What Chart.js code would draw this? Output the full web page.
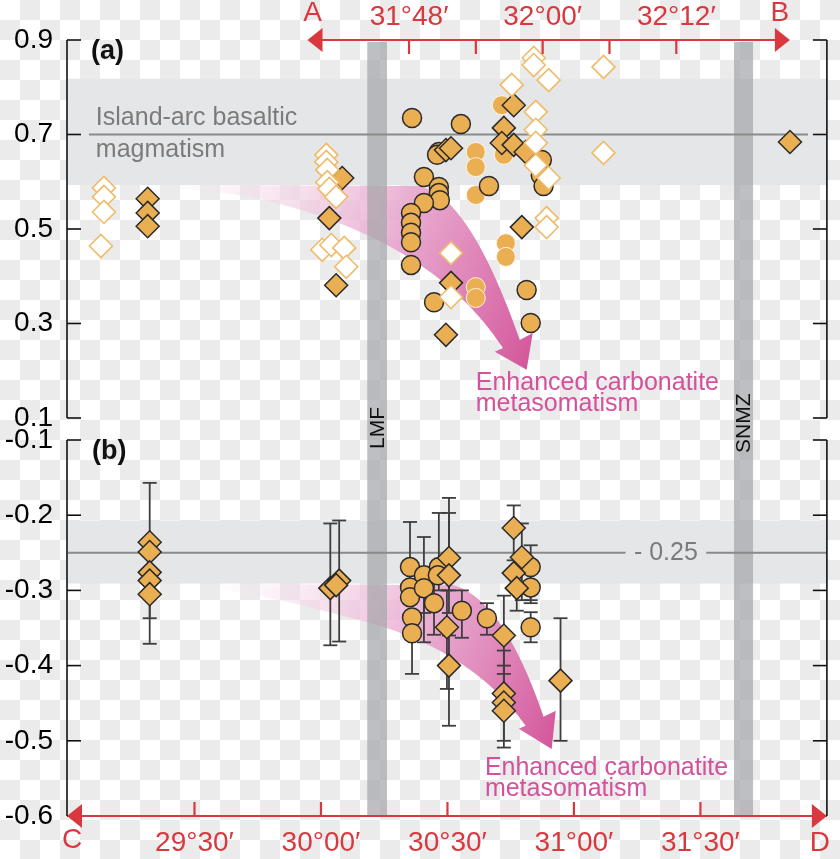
<!DOCTYPE html>
<html>
<head>
<meta charset="utf-8">
<title>Section A-B / C-D</title>
<script src="https://cdn.jsdelivr.net/npm/chart.js@4.4.1/dist/chart.umd.min.js"></script>
<style>
  html, body { margin: 0; padding: 0; }
  body {
    width: 840px; height: 859px;
    background-color: #fff;
    background-image: conic-gradient(#ebebeb 25%, #fff 0 50%, #ebebeb 0 75%, #fff 0);
    background-size: 40px 40px;
  }
  canvas { display: block; }
</style>
</head>
<body>
<canvas id="chart" width="840" height="859"></canvas>
<script>
// ---- panel (a) ----
var aCircleLon = [30.360, 30.553, 30.466, 30.459, 30.407, 30.466, 30.466, 30.470, 30.407, 30.356, 30.356,
                  30.356, 30.356, 30.356, 30.664, 30.873, 30.869, 30.880, 30.447, 30.813, 30.829];
var aCircleVal = [0.735, 0.722, 0.663, 0.657, 0.610, 0.589, 0.576, 0.561, 0.555, 0.534, 0.513,
                  0.492, 0.472, 0.424, 0.591, 0.646, 0.614, 0.591, 0.345, 0.371, 0.301];

var aDiamondLon = [30.762, 30.723, 30.715, 30.762, 30.809, 30.494, 30.514, 30.794, 30.514, 30.494,
                   30.084, 30.033, 30.060, 29.315, 29.315, 29.315, 31.854];
var aDiamondVal = [0.762, 0.714, 0.682, 0.678, 0.663, 0.667, 0.671, 0.504, 0.386, 0.276,
                   0.608, 0.523, 0.381, 0.564, 0.534, 0.506, 0.684];

var aOpenLon = [29.142, 29.142, 29.142, 29.130, 30.021, 30.021, 30.025, 30.025, 30.033, 30.060,
                30.005, 30.041, 30.092, 30.100, 30.841, 30.841, 30.900, 30.754, 30.849, 30.849,
                30.849, 30.849, 30.900, 30.892, 30.892, 31.117, 31.117, 30.514, 30.514];
var aOpenVal = [0.587, 0.568, 0.536, 0.464, 0.657, 0.642, 0.625, 0.599, 0.585, 0.568,
                0.456, 0.466, 0.460, 0.420, 0.862, 0.847, 0.815, 0.805, 0.748, 0.710,
                0.682, 0.635, 0.608, 0.523, 0.504, 0.843, 0.661, 0.449, 0.356];

var aDotLon = [30.612, 30.612, 30.612, 30.715, 30.723, 30.731, 30.731, 30.612, 30.612];
var aDotVal = [0.663, 0.631, 0.572, 0.762, 0.657, 0.470, 0.441, 0.377, 0.354];

// ---- panel (b) ----
var bCircleLon  = [30.352, 30.352, 30.352, 30.360, 30.360, 30.407, 30.407, 30.447, 30.466, 30.462, 30.557, 30.656, 30.829, 30.829, 30.829];
var bCircleVal  = [-0.269, -0.296, -0.309, -0.336, -0.357, -0.280, -0.297, -0.317, -0.269, -0.280, -0.327, -0.337, -0.269, -0.296, -0.349];
var bCircleLow  = [-0.300, null, null, null, -0.411, -0.330, -0.369, -0.359, -0.300, null, -0.363, -0.359, -0.317, -0.313, -0.369];
var bCircleHigh = [-0.209, null, null, null, -0.330, -0.229, -0.270, -0.290, -0.197, null, -0.300, -0.317, -0.240, -0.270, -0.329];

var bDiamondLon  = [29.323, 29.323, 29.323, 29.323, 29.323, 30.037, 30.072, 30.060, 30.506, 30.506, 30.498,
                    30.506, 30.723, 30.723, 30.723, 30.723, 30.947, 30.762, 30.794, 30.762, 30.774];
var bDiamondVal  = [-0.236, -0.249, -0.276, -0.287, -0.305, -0.297, -0.287, -0.293, -0.257, -0.280, -0.349,
                    -0.400, -0.360, -0.437, -0.449, -0.460, -0.420, -0.217, -0.256, -0.277, -0.297];
var bDiamondLow  = [-0.337, null, null, null, -0.371, -0.373, -0.368, null, -0.300, -0.330, -0.431,
                    -0.480, -0.411, -0.500, -0.509, null, -0.500, -0.260, -0.313, null, -0.327];
var bDiamondHigh = [-0.157, null, null, null, -0.280, -0.211, -0.207, null, -0.177, -0.197, -0.300,
                    -0.360, -0.307, -0.380, -0.400, null, -0.337, -0.187, -0.211, null, -0.270];

// ---- axes ----
var bottomTicks = [29.5, 30.0, 30.5, 31.0, 31.5];
var topTicks = [31.8, 31.9, 32.0, 32.1, 32.2];
var topLabelled = [31.8, 32.0, 32.2];
var topRange = [31.2896, 32.4254];
var topArrow = [31.648, 32.370];
var aTicks = [0.1, 0.3, 0.5, 0.7, 0.9];
var bTicks = [-0.6, -0.5, -0.4, -0.3, -0.2, -0.1];

// ---- reference ranges and annotations ----
var arcBand = [0.593, 0.818], arcMean = 0.7, arcLineSpan = [29.083, 31.925];
var arcTextLon = 29.110, arcTextVals = [0.735, 0.667];
var mantleBand = [-0.291, -0.207], mantleMean = -0.25, mantleGap = [31.204, 31.523];
var lmfZone = [30.183, 30.261], snmzZone = [31.633, 31.708];
var lmfLabelVal = 0.079, snmzLabelVal = 0.089;
var carbTextA = [30.612, 0.174, 0.130], carbTextB = [30.648, -0.536, -0.564];

var arrowAPath = [
  ['M', 29.323, 0.593], ['L', 30.388, 0.591], ['Q', 30.585, 0.572, 30.786, 0.265],
  ['L', 30.837, 0.280], ['L', 30.813, 0.202], ['L', 30.687, 0.240], ['L', 30.719, 0.248],
  ['Q', 30.427, 0.487, 29.717, 0.568], ['Q', 29.520, 0.585, 29.323, 0.591]
];
var arrowBPath = [
  ['M', 29.520, -0.291], ['L', 30.526, -0.293], ['Q', 30.723, -0.313, 30.880, -0.468],
  ['L', 30.928, -0.460], ['L', 30.912, -0.511], ['L', 30.782, -0.484], ['L', 30.809, -0.480],
  ['Q', 30.585, -0.373, 30.112, -0.336], ['Q', 29.796, -0.307, 29.520, -0.293]
];

var RED = '#d8383e';
var ORANGE = '#eaae53';
var PINK = '#d4519b';
var FONT = "'Liberation Sans', Arial, Helvetica, sans-serif";

function fmtDeg(v) {
  var d = Math.floor(v + 1e-9);
  var m = Math.round((v - d) * 60);
  if (m === 60) { d += 1; m = 0; }
  return d + '°' + String(m).padStart(2, '0') + '′';
}

function pts(xs, ys) {
  return xs.map(function (x, i) { return {x: x, y: ys[i]}; });
}

function seg(ctx, x1, y1, x2, y2) {
  ctx.beginPath();
  ctx.moveTo(x1, y1);
  ctx.lineTo(x2, y2);
  ctx.stroke();
}

function drawTrendArrow(ctx, xs, ys, path) {
  var P = function (lon, v) { return [xs.getPixelForValue(lon), ys.getPixelForValue(v)]; };
  ctx.beginPath();
  path.forEach(function (c) {
    var p = P(c[1], c[2]);
    if (c[0] === 'M') ctx.moveTo(p[0], p[1]);
    else if (c[0] === 'L') ctx.lineTo(p[0], p[1]);
    else { var q = P(c[3], c[4]); ctx.quadraticCurveTo(p[0], p[1], q[0], q[1]); }
  });
  ctx.closePath();
  var s = P(path[0][1], path[0][2]), tip = P(path[4][1], path[4][2]);
  var g = ctx.createLinearGradient(s[0], s[1], tip[0], tip[1]);
  g.addColorStop(0, 'rgba(250,235,244,0)');
  g.addColorStop(0.3, 'rgba(244,212,231,0.65)');
  g.addColorStop(0.65, 'rgba(228,150,196,0.92)');
  g.addColorStop(1, '#d3579b');
  ctx.fillStyle = g;
  ctx.fill();
}

function arrowHead(ctx, tipX, y, dir) {
  ctx.beginPath();
  ctx.moveTo(tipX, y);
  ctx.lineTo(tipX - dir * 15, y - 12);
  ctx.lineTo(tipX - dir * 15, y + 12);
  ctx.closePath();
  ctx.fill();
}

var decor = {
  id: 'decor',
  beforeDatasetsDraw: function (chart) {
    var ctx = chart.ctx, ca = chart.chartArea;
    var x = chart.scales.x, ya = chart.scales.ya, yb = chart.scales.yb;
    ctx.save();

    // reference ranges
    ctx.fillStyle = '#e5e6e8';
    [[ya, arcBand], [yb, mantleBand]].forEach(function (r) {
      var top = r[0].getPixelForValue(r[1][1]);
      ctx.fillRect(ca.left, top, ca.right - ca.left, r[0].getPixelForValue(r[1][0]) - top);
    });

    // carbonatite trend arrows
    drawTrendArrow(ctx, x, ya, arrowAPath);
    drawTrendArrow(ctx, x, yb, arrowBPath);

    // fault zones
    ctx.fillStyle = 'rgba(165,166,170,0.72)';
    [lmfZone, snmzZone].forEach(function (z) {
      var l = x.getPixelForValue(z[0]);
      ctx.fillRect(l, ca.top + 2, x.getPixelForValue(z[1]) - l, ca.bottom - ca.top - 2);
    });

    // mean lines
    ctx.strokeStyle = '#8a8a8a';
    ctx.lineWidth = 2;
    var ay = ya.getPixelForValue(arcMean);
    seg(ctx, x.getPixelForValue(arcLineSpan[0]), ay, x.getPixelForValue(arcLineSpan[1]), ay);
    var by = yb.getPixelForValue(mantleMean);
    seg(ctx, ca.left, by, x.getPixelForValue(mantleGap[0]), by);
    seg(ctx, x.getPixelForValue(mantleGap[1]), by, ca.right, by);

    // labels
    ctx.textBaseline = 'middle';
    ctx.font = '25px ' + FONT;
    ctx.fillStyle = '#7b7b7b';
    ctx.textAlign = 'left';
    var tx = x.getPixelForValue(arcTextLon);
    ctx.fillText('Island-arc basaltic', tx, ya.getPixelForValue(arcTextVals[0]));
    ctx.fillText('magmatism', tx, ya.getPixelForValue(arcTextVals[1]));
    ctx.textAlign = 'center';
    ctx.fillText('- ' + (-mantleMean).toFixed(2), x.getPixelForValue((mantleGap[0] + mantleGap[1]) / 2), by);

    ctx.fillStyle = PINK;
    ctx.textAlign = 'left';
    [[ya, carbTextA], [yb, carbTextB]].forEach(function (r) {
      var px = x.getPixelForValue(r[1][0]);
      ctx.fillText('Enhanced carbonatite', px, r[0].getPixelForValue(r[1][1]));
      ctx.fillText('metasomatism', px, r[0].getPixelForValue(r[1][2]));
    });

    ctx.fillStyle = '#111';
    ctx.font = '21px ' + FONT;
    ctx.textAlign = 'center';
    [[lmfZone, 'LMF', lmfLabelVal], [snmzZone, 'SNMZ', snmzLabelVal]].forEach(function (r) {
      ctx.save();
      ctx.translate(x.getPixelForValue((r[0][0] + r[0][1]) / 2), ya.getPixelForValue(r[2]));
      ctx.rotate(-Math.PI / 2);
      ctx.fillText(r[1], 0, 1);
      ctx.restore();
    });

    // error bars
    ctx.strokeStyle = '#3e3e3e';
    ctx.lineWidth = 1.8;
    chart.data.datasets.forEach(function (ds) {
      if (!ds.errLow) return;
      var s = chart.scales[ds.yAxisID];
      ds.data.forEach(function (p, j) {
        if (ds.errLow[j] == null) return;
        var px = x.getPixelForValue(p.x);
        var y1 = s.getPixelForValue(ds.errHigh[j]), y2 = s.getPixelForValue(ds.errLow[j]);
        seg(ctx, px, y1, px, y2);
        seg(ctx, px - 7, y1, px + 7, y1);
        seg(ctx, px - 7, y2, px + 7, y2);
      });
    });
    ctx.restore();
  },
  afterDraw: function (chart) {
    var ctx = chart.ctx, ca = chart.chartArea;
    var x = chart.scales.x, xt = chart.scales.xt, ya = chart.scales.ya, yb = chart.scales.yb;
    ctx.save();

    // black frames with inward ticks
    ctx.strokeStyle = '#111';
    ctx.lineWidth = 1.6;
    [[ya, aTicks], [yb, bTicks]].forEach(function (r) {
      var s = r[0], ticks = r[1];
      var t = s.getPixelForValue(Math.max.apply(null, ticks));
      var b = s.getPixelForValue(Math.min.apply(null, ticks));
      [ca.left - 1, ca.right].forEach(function (xx, k) {
        seg(ctx, xx, t, xx, b);
        ticks.forEach(function (v) {
          var py = s.getPixelForValue(v);
          seg(ctx, xx, py, xx + (k ? -14 : 14), py);
        });
      });
    });

    // red section lines
    ctx.strokeStyle = RED;
    ctx.fillStyle = RED;
    ctx.lineWidth = 2.2;
    var yB = ca.bottom;
    seg(ctx, ca.left + 6, yB, ca.right - 6, yB);
    arrowHead(ctx, ca.left - 1, yB, -1);
    arrowHead(ctx, ca.right, yB, 1);
    bottomTicks.forEach(function (v) {
      var px = x.getPixelForValue(v);
      seg(ctx, px, yB, px, yB - 14);
    });

    var yT = ca.top, l = xt.getPixelForValue(topArrow[0]), r = xt.getPixelForValue(topArrow[1]);
    seg(ctx, l + 6, yT, r - 6, yT);
    arrowHead(ctx, l, yT, -1);
    arrowHead(ctx, r, yT, 1);
    topTicks.forEach(function (v) {
      var px = xt.getPixelForValue(v);
      seg(ctx, px, yT, px, yT + 14);
    });

    ctx.font = '28px ' + FONT;
    ctx.textAlign = 'center';
    ctx.textBaseline = 'middle';
    ctx.fillText('A', l + 5, yT - 27);
    ctx.fillText('B', r - 10, yT - 27);
    ctx.fillText('C', ca.left + 4, yB + 24);
    ctx.fillText('D', ca.right - 7, yB + 27);

    // panel letters
    ctx.fillStyle = '#111';
    ctx.font = 'bold 27px ' + FONT;
    ctx.textAlign = 'left';
    ctx.fillText('(a)', ca.left + 23, ya.getPixelForValue(0.9) + 12);
    ctx.fillText('(b)', ca.left + 24, yb.getPixelForValue(-0.1) + 12);
    ctx.restore();
  }
};

var markerA = {pointBackgroundColor: ORANGE, pointBorderColor: '#2a2a2a', pointBorderWidth: 1.5};

var datasets = [
  Object.assign({label: 'open diamond', data: pts(aOpenLon, aOpenVal), yAxisID: 'ya', order: 1,
    pointStyle: 'rectRot', pointRadius: 11.5},
    {pointBackgroundColor: '#ffffff', pointBorderColor: '#efbb69', pointBorderWidth: 1.6}),
  Object.assign({label: 'diamond', data: pts(aDiamondLon, aDiamondVal), yAxisID: 'ya', order: 2,
    pointStyle: 'rectRot', pointRadius: 11.5}, markerA),
  Object.assign({label: 'circle', data: pts(aCircleLon, aCircleVal), yAxisID: 'ya', order: 3,
    pointStyle: 'circle', pointRadius: 9.5}, markerA),
  Object.assign({label: 'dot', data: pts(aDotLon, aDotVal), yAxisID: 'ya', order: 4,
    pointStyle: 'circle', pointRadius: 9.5},
    {pointBackgroundColor: ORANGE, pointBorderColor: '#fff4e0', pointBorderWidth: 1}),
  Object.assign({label: 'diamond b', data: pts(bDiamondLon, bDiamondVal), yAxisID: 'yb', order: 1,
    pointStyle: 'rectRot', pointRadius: 11.5, errLow: bDiamondLow, errHigh: bDiamondHigh}, markerA),
  Object.assign({label: 'circle b', data: pts(bCircleLon, bCircleVal), yAxisID: 'yb', order: 2,
    pointStyle: 'circle', pointRadius: 9.5, errLow: bCircleLow, errHigh: bCircleHigh}, markerA)
];

var tickFont = {family: FONT, size: 28};

new Chart(document.getElementById('chart'), {
  type: 'scatter',
  data: {datasets: datasets},
  plugins: [decor],
  options: {
    responsive: false,
    animation: false,
    events: [],
    layout: {padding: {left: 0, right: 11, top: 0, bottom: 0}},
    plugins: {legend: {display: false}, tooltip: {enabled: false}},
    scales: {
      x: {
        type: 'linear', position: 'bottom', min: 29, max: 32,
        afterBuildTicks: function (s) { s.ticks = bottomTicks.map(function (v) { return {value: v}; }); },
        afterFit: function (s) { s.height = 43; },
        grid: {display: false, drawTicks: false},
        border: {display: false},
        ticks: {font: tickFont, color: RED, padding: 10, maxRotation: 0, autoSkip: false,
                callback: function (v) { return fmtDeg(v); }}
      },
      xt: {
        type: 'linear', position: 'top', min: topRange[0], max: topRange[1],
        afterBuildTicks: function (s) { s.ticks = topTicks.map(function (v) { return {value: v}; }); },
        afterFit: function (s) { s.height = 40; },
        grid: {display: false, drawTicks: false},
        border: {display: false},
        ticks: {font: tickFont, color: RED, padding: 6, maxRotation: 0, autoSkip: false,
                callback: function (v) {
                  return topLabelled.some(function (t) { return Math.abs(t - v) < 1e-6; }) ? fmtDeg(v) : '';
                }}
      },
      ya: {
        type: 'linear', position: 'left', stack: 'v', stackWeight: 400, weight: 2,
        min: 0.0534, max: 0.9,
        afterBuildTicks: function (s) { s.ticks = aTicks.map(function (v) { return {value: v}; }); },
        afterFit: function (s) { s.width = 68; },
        grid: {display: false, drawTicks: false},
        border: {display: false},
        ticks: {font: tickFont, color: '#000', padding: 15, autoSkip: false,
                callback: function (v) { return v.toFixed(1); }}
      },
      yb: {
        type: 'linear', position: 'left', stack: 'v', stackWeight: 376, weight: 1,
        min: -0.6, max: -0.1,
        afterBuildTicks: function (s) { s.ticks = bTicks.map(function (v) { return {value: v}; }); },
        afterFit: function (s) { s.width = 68; },
        grid: {display: false, drawTicks: false},
        border: {display: false},
        ticks: {font: tickFont, color: '#000', padding: 15, autoSkip: false,
                callback: function (v) { return v.toFixed(1); }}
      }
    }
  }
});
</script>
</body>
</html>
